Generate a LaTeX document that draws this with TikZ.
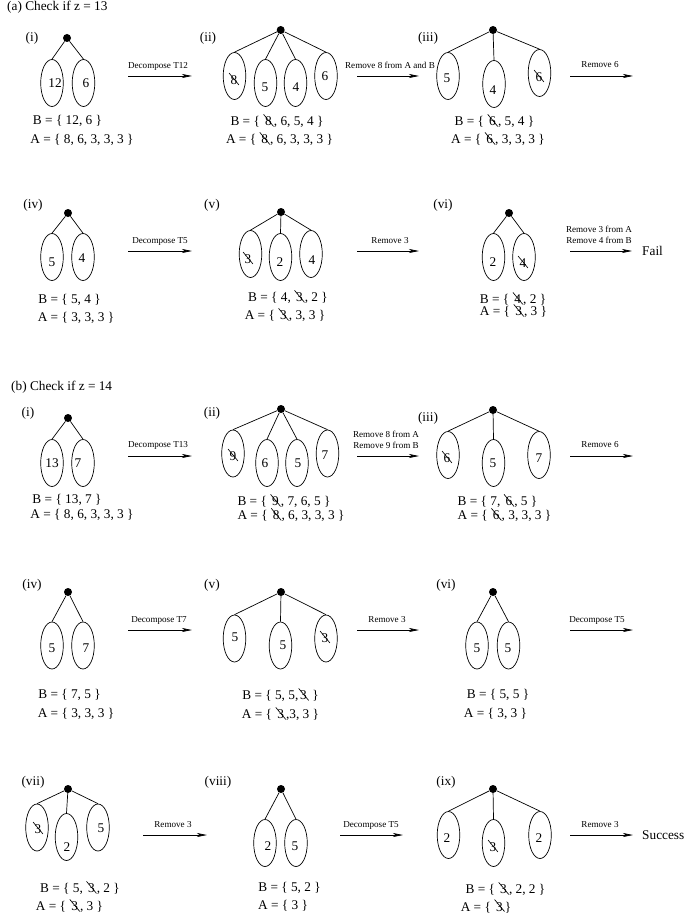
\documentclass[tikz,border=0pt]{standalone}
\usepackage{fontspec}
\setmainfont{Liberation Serif}
\usetikzlibrary{shapes.geometric,arrows.meta}
\newcommand\stk[1]{\tikz[baseline=(sk.base)]{\node[inner sep=0pt,outer sep=0pt](sk){#1};\draw[line width=0.65pt] ([shift={(-1.5pt,11.5pt)}]sk.base west) -- ([shift={(1.8pt,-0.5pt)}]sk.base east);}}
\begin{document}
\begin{tikzpicture}[x=1pt,y=-1pt,
 big/.style={font=\fontsize{13.3}{15}\selectfont, inner sep=0pt},
 small/.style={font=\fontsize{9.1}{10}\selectfont, inner sep=0pt},
 ell/.style={draw, ellipse, minimum width=22.6pt, minimum height=47pt, inner sep=0pt, line width=0.7pt},
 dot/.style={circle, fill, inner sep=0pt, minimum size=8pt},
 branch/.style={line width=0.7pt},
 arr/.style={line width=0.7pt, -{Stealth[length=10pt,width=4pt,inset=2.5pt]}}]
\useasboundingbox (0,0) rectangle (684,920);

% ===================== (a) =====================
\node[big, anchor=west] (ta) at (7,7) {(a) Check if z = 13};

% (a)(i)
\node[big] (a1l) at (32,38) {(i)};
\node[dot] (a1r) at (67,38) {};
\node[ell] (a1e1) at (52,83) {};
\node[ell] (a1e2) at (83.5,83) {};
\draw[branch] (a1r) -- (a1e1.north) (a1r) -- (a1e2.north);
\node[big] (a1d1) at (55,83) {12};
\node[big] (a1d2) at (86,83) {6};
\node[big] (a1B) at (67.5,121) {B = \{ 12, 6 \}};
\node[big] (a1A) at (82,140) {A = \{ 8, 6, 3, 3, 3 \}};
\coordinate (a1s) at (128,76); \coordinate (a1t) at (192,76);
\draw[arr] (a1s) -- (a1t);
\node[small] (a1m) at (158,66) {Decompose T12};

% (a)(ii)
\node[big] (a2l) at (208,38) {(ii)};
\node[dot] (a2r) at (280.7,30) {};
\node[ell] (a2e1) at (234.5,76) {};
\node[ell] (a2e2) at (265.5,83) {};
\node[ell] (a2e3) at (295.5,83) {};
\node[ell] (a2e4) at (326,76) {};
\draw[branch] (a2r) -- (a2e1.north) (a2r) -- (a2e2.north) (a2r) -- (a2e3.north) (a2r) -- (a2e4.north);
\node[big] (a2d1) at (234,79) {\stk{8}};
\node[big] (a2d2) at (265,87) {5};
\node[big] (a2d3) at (296,87) {4};
\node[big] (a2d4) at (325,76) {6};
\node[big] (a2B) at (277,121) {B = \{ \stk{8}, 6, 5, 4 \}};
\node[big] (a2A) at (279.5,139) {A = \{ \stk{8}, 6, 3, 3, 3 \}};
\coordinate (a2s) at (357,76); \coordinate (a2t) at (419,76);
\draw[arr] (a2s) -- (a2t);
\node[small] (a2m) at (390,65) {Remove 8 from A and B};

% (a)(iii)
\node[big] (a3l) at (428,38) {(iii)};
\node[dot] (a3r) at (493,30) {};
\node[ell] (a3e1) at (448,76) {};
\node[ell] (a3e2) at (494,84) {};
\node[ell] (a3e3) at (539.5,73) {};
\draw[branch] (a3r) -- (a3e1.north) (a3r) -- (a3e2.north) (a3r) -- (a3e3.north);
\node[big] (a3d1) at (447,78) {5};
\node[big] (a3d2) at (493,90) {4};
\node[big] (a3d3) at (539,76) {\stk{6}};
\node[big] (a3B) at (494.5,121) {B = \{ \stk{6}, 5, 4 \}};
\node[big] (a3A) at (498,139) {A = \{ \stk{6}, 3, 3, 3 \}};
\coordinate (a3s) at (570,76); \coordinate (a3t) at (633,76);
\draw[arr] (a3s) -- (a3t);
\node[small] (a3m) at (600,65) {Remove 6};

% (a)(iv)
\node[big] (a4l) at (33,205) {(iv)};
\node[dot] (a4r) at (68,213) {};
\node[ell] (a4e1) at (52,257) {};
\node[ell] (a4e2) at (83,257) {};
\draw[branch] (a4r) -- (a4e1.north) (a4r) -- (a4e2.north);
\node[big] (a4d1) at (52,262) {5};
\node[big] (a4d2) at (82,258) {4};
\node[big] (a4B) at (69.5,300) {B = \{ 5, 4 \}};
\node[big] (a4A) at (76,318) {A = \{ 3, 3, 3 \}};
\coordinate (a4s) at (128,251); \coordinate (a4t) at (192,251);
\draw[arr] (a4s) -- (a4t);
\node[small] (a4m) at (160,241) {Decompose T5};

% (a)(v)
\node[big] (a5l) at (212,205) {(v)};
\node[dot] (a5r) at (281,212) {};
\node[ell] (a5e1) at (250.5,254) {};
\node[ell] (a5e2) at (280.5,257) {};
\node[ell] (a5e3) at (311,254) {};
\draw[branch] (a5r) -- (a5e1.north) (a5r) -- (a5e2.north) (a5r) -- (a5e3.north);
\node[big] (a5d1) at (248,258) {\stk{3}};
\node[big] (a5d2) at (280,262) {2};
\node[big] (a5d3) at (312,260) {4};
\node[big] (a5B) at (288,297) {B = \{ 4, \stk{3}, 2 \}};
\node[big] (a5A) at (285,315) {A = \{ \stk{3}, 3, 3 \}};
\coordinate (a5s) at (357,251); \coordinate (a5t) at (419,251);
\draw[arr] (a5s) -- (a5t);
\node[small] (a5m) at (390,241) {Remove 3};

% (a)(vi)
\node[big] (a6l) at (443,205) {(vi)};
\node[dot] (a6r) at (509,213) {};
\node[ell] (a6e1) at (493.5,257) {};
\node[ell] (a6e2) at (524,257) {};
\draw[branch] (a6r) -- (a6e1.north) (a6r) -- (a6e2.north);
\node[big] (a6d1) at (493,262) {2};
\node[big] (a6d2) at (523,262) {\stk{4}};
\node[big] (a6B) at (513,299) {B = \{ \stk{4}, 2 \}};
\node[big] (a6A) at (513.5,311) {A = \{ \stk{3}, 3 \}};
\coordinate (a6s) at (570,251); \coordinate (a6t) at (632,251);
\draw[arr] (a6s) -- (a6t);
\node[small] (a6m1) at (599,229) {Remove 3 from A};
\node[small] (a6m2) at (599,240) {Remove 4 from B};
\node[big, anchor=west] (fail) at (642,251) {Fail};

% ===================== (b) =====================
\node[big, anchor=west] (tb) at (11,387) {(b) Check if z = 14};

% (b)(i)
\node[big] (b1l) at (28,413) {(i)};
\node[dot] (b1r) at (68,418) {};
\node[ell] (b1e1) at (52,463) {};
\node[ell] (b1e2) at (83,463) {};
\draw[branch] (b1r) -- (b1e1.north) (b1r) -- (b1e2.north);
\node[big] (b1d1) at (52,463) {13};
\node[big] (b1d2) at (78,463) {7};
\node[big] (b1B) at (67,500) {B = \{ 13, 7 \}};
\node[big] (b1A) at (82,515) {A = \{ 8, 6, 3, 3, 3 \}};
\coordinate (b1s) at (128,456); \coordinate (b1t) at (192,456);
\draw[arr] (b1s) -- (b1t);
\node[small] (b1m) at (158,445) {Decompose T13};

% (b)(ii)
\node[big] (b2l) at (212,413) {(ii)};
\node[dot] (b2r) at (281,409) {};
\node[ell] (b2e1) at (233,453.5) {};
\node[ell] (b2e2) at (267,463) {};
\node[ell] (b2e3) at (297,463) {};
\node[ell] (b2e4) at (327.5,453.5) {};
\draw[branch] (b2r) -- (b2e1.north) (b2r) -- (b2e2.north) (b2r) -- (b2e3.north) (b2r) -- (b2e4.north);
\node[big] (b2d1) at (233,455) {\stk{9}};
\node[big] (b2d2) at (265,463) {6};
\node[big] (b2d3) at (298,463) {5};
\node[big] (b2d4) at (325,455) {7};
\node[big] (b2B) at (284,501) {B = \{ \stk{9}, 7, 6, 5 \}};
\node[big] (b2A) at (291,515) {A = \{ \stk{8}, 6, 3, 3, 3 \}};
\coordinate (b2s) at (357,456); \coordinate (b2t) at (419,456);
\draw[arr] (b2s) -- (b2t);
\node[small] (b2m1) at (386,434) {Remove 8 from A};
\node[small] (b2m2) at (386,445) {Remove 9 from B};

% (b)(iii)
\node[big] (b3l) at (428,418) {(iii)};
\node[dot] (b3r) at (493,410) {};
\node[ell] (b3e1) at (448,455) {};
\node[ell] (b3e2) at (493.5,463) {};
\node[ell] (b3e3) at (539,455) {};
\draw[branch] (b3r) -- (b3e1.north) (b3r) -- (b3e2.north) (b3r) -- (b3e3.north);
\node[big] (b3d1) at (447,457) {\stk{6}};
\node[big] (b3d2) at (493,463) {5};
\node[big] (b3d3) at (539,458) {7};
\node[big] (b3B) at (497.5,501) {B = \{ 7, \stk{6}, 5 \}};
\node[big] (b3A) at (504.5,515) {A = \{ \stk{6}, 3, 3, 3 \}};
\coordinate (b3s) at (570,456); \coordinate (b3t) at (633,456);
\draw[arr] (b3s) -- (b3t);
\node[small] (b3m) at (600,445) {Remove 6};

% (b)(iv)
\node[big] (b4l) at (32,585) {(iv)};
\node[dot] (b4r) at (68,592) {};
\node[ell] (b4e1) at (52,645.5) {};
\node[ell] (b4e2) at (83,645.5) {};
\draw[branch] (b4r) -- (b4e1.north) (b4r) -- (b4e2.north);
\node[big] (b4d1) at (52,648) {5};
\node[big] (b4d2) at (86,648) {7};
\node[big] (b4B) at (69.5,695) {B = \{ 7, 5 \}};
\node[big] (b4A) at (76,714) {A = \{ 3, 3, 3 \}};
\coordinate (b4s) at (128,630); \coordinate (b4t) at (192,630);
\draw[arr] (b4s) -- (b4t);
\node[small] (b4m) at (159,620) {Decompose T7};

% (b)(v)
\node[big] (b5l) at (212,585) {(v)};
\node[dot] (b5r) at (281,592) {};
\node[ell] (b5e1) at (234.5,638.5) {};
\node[ell] (b5e2) at (280.5,645.5) {};
\node[ell] (b5e3) at (326,638.5) {};
\draw[branch] (b5r) -- (b5e1.north) (b5r) -- (b5e2.north) (b5r) -- (b5e3.north);
\node[big] (b5d1) at (235,637) {5};
\node[big] (b5d2) at (283,645) {5};
\node[big] (b5d3) at (325,637) {\stk{3}};
\node[big] (b5B) at (280.5,695) {B = \{ 5, 5,\stk{3} \}};
\node[big] (b5A) at (280.5,714) {A = \{ \stk{3},3, 3 \}};
\coordinate (b5s) at (357,630); \coordinate (b5t) at (419,630);
\draw[arr] (b5s) -- (b5t);
\node[small] (b5m) at (387,620) {Remove 3};

% (b)(vi)
\node[big] (b6l) at (446,585) {(vi)};
\node[dot] (b6r) at (493,592) {};
\node[ell] (b6e1) at (477,645.5) {};
\node[ell] (b6e2) at (508.5,645.5) {};
\draw[branch] (b6r) -- (b6e1.north) (b6r) -- (b6e2.north);
\node[big] (b6d1) at (477,648) {5};
\node[big] (b6d2) at (508,648) {5};
\node[big] (b6B) at (498,695) {B = \{ 5, 5 \}};
\node[big] (b6A) at (495.5,714) {A = \{ 3, 3 \}};
\coordinate (b6s) at (570,630); \coordinate (b6t) at (633,630);
\draw[arr] (b6s) -- (b6t);
\node[small] (b6m) at (597,620) {Decompose T5};

% (b)(vii)
\node[big] (b7l) at (33,782) {(vii)};
\node[dot] (b7r) at (68,789) {};
\node[ell] (b7e1) at (37,827.5) {};
\node[ell] (b7e2) at (66.5,837) {};
\node[ell] (b7e3) at (98,827.5) {};
\draw[branch] (b7r) -- (b7e1.north) (b7r) -- (b7e2.north) (b7r) -- (b7e3.north);
\node[big] (b7d1) at (38,828) {\stk{3}};
\node[big] (b7d2) at (67,847) {2};
\node[big] (b7d3) at (101,828) {5};
\node[big] (b7B) at (80,888) {B = \{ 5, \stk{3}, 2 \}};
\node[big] (b7A) at (69.5,906) {A = \{ \stk{3}, 3 \}};
\coordinate (b7s) at (143,835); \coordinate (b7t) at (207,835);
\draw[arr] (b7s) -- (b7t);
\node[small] (b7m) at (173,825) {Remove 3};

% (b)(viii)
\node[big] (b8l) at (218,782) {(viii)};
\node[dot] (b8r) at (281,789) {};
\node[ell] (b8e1) at (265,843) {};
\node[ell] (b8e2) at (296,843) {};
\draw[branch] (b8r) -- (b8e1.north) (b8r) -- (b8e2.north);
\node[big] (b8d1) at (268,846) {2};
\node[big] (b8d2) at (295,846) {5};
\node[big] (b8B) at (289.5,888) {B = \{ 5, 2 \}};
\node[big] (b8A) at (283,906) {A = \{ 3 \}};
\coordinate (b8s) at (340,835); \coordinate (b8t) at (403,835);
\draw[arr] (b8s) -- (b8t);
\node[small] (b8m) at (371,825) {Decompose T5};

% (b)(ix)
\node[big] (b9l) at (446,782) {(ix)};
\node[dot] (b9r) at (493,789) {};
\node[ell] (b9e1) at (448.5,835) {};
\node[ell] (b9e2) at (493.5,843) {};
\node[ell] (b9e3) at (540,835) {};
\draw[branch] (b9r) -- (b9e1.north) (b9r) -- (b9e2.north) (b9r) -- (b9e3.north);
\node[big] (b9d1) at (447,838) {2};
\node[big] (b9d2) at (493,846) {\stk{3}};
\node[big] (b9d3) at (539,838) {2};
\node[big] (b9B) at (505.5,889) {B = \{ \stk{3}, 2, 2 \}};
\node[big] (b9A) at (486,906) {A = \{ \stk{3}\}};
\coordinate (b9s) at (570,835); \coordinate (b9t) at (633,835);
\draw[arr] (b9s) -- (b9t);
\node[small] (b9m) at (600,825) {Remove 3};
\node[big, anchor=west] (succ) at (642,835) {Success};
\end{tikzpicture}
\end{document}
